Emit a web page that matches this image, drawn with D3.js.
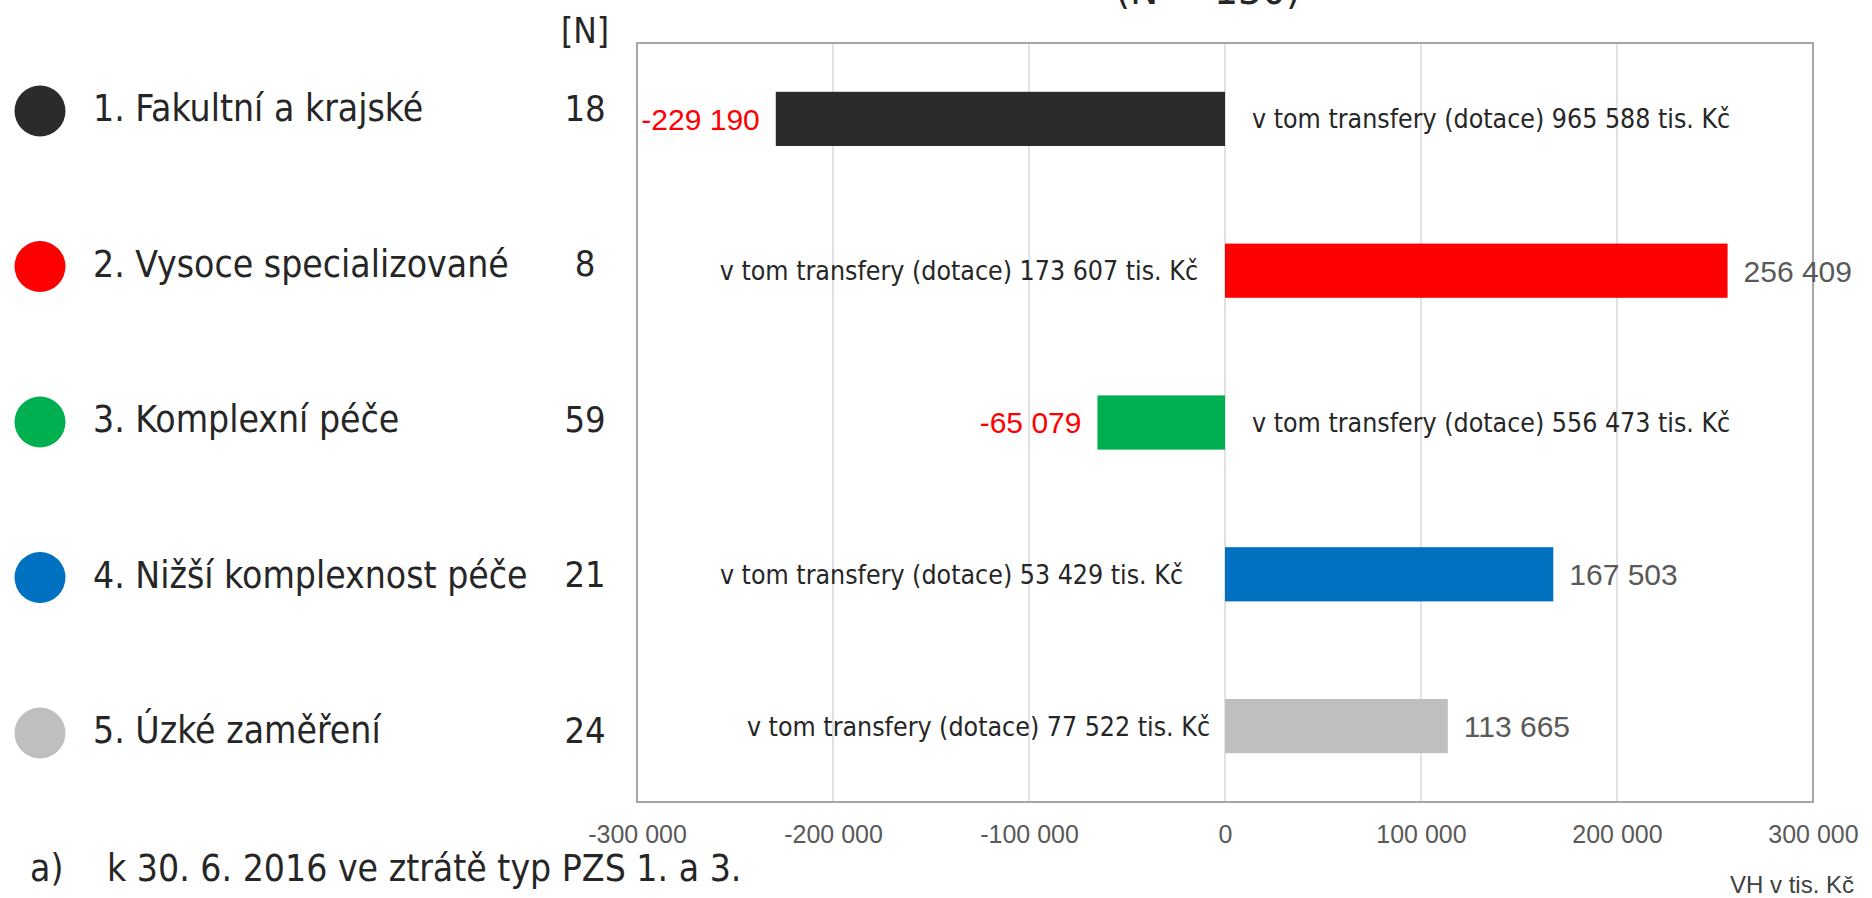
<!DOCTYPE html>
<html>
<head>
<meta charset="utf-8">
<script src="https://cdn.jsdelivr.net/npm/d3@7"></script>
<style>
  body { margin: 0; background: #ffffff; }
  svg { display: block; }
  .cond { font-family: "DejaVu Sans Condensed", "DejaVu Sans", sans-serif; font-stretch: condensed; }
  .num { font-family: "Liberation Sans", Arial, sans-serif; }
</style>
</head>
<body>
<script>
"use strict";

// hospital types and their counts
const CATEGORIES = ["1. Fakultní a krajské", "2. Vysoce specializované", "3. Komplexní péče",
                    "4. Nižší komplexnost péče", "5. Úzké zaměření"];
const COUNTS = [18, 8, 59, 21, 24];
// VH v tis. Kč
const VALUES = [-229190, 256409, -65079, 167503, 113665];
// v tom transfery (dotace), tis. Kč
const TRANSFERS = [965588, 173607, 556473, 53429, 77522];
const X_TICKS = [-300000, -200000, -100000, 0, 100000, 200000, 300000];
const COLORS = ["#2b2b2b", "#ff0000", "#00b050", "#0070c0", "#bfbfbf"];

class ChartView
{
    /**
     * @param {String} selector element to draw into
     */
    constructor(selector)
    {
        this._selector = selector;
        this._fmt = d3.formatLocale({decimal: ",", thousands: " ", grouping: [3],
                                     currency: ["", ""], minus: "-"}).format(",d");
    }

    draw()
    {
        const WIDTH = 1872;
        const HEIGHT = 898;
        const fmt = this._fmt;
        // the transfer notes were hand placed text boxes, not all at the same spot
        const NOTE_NUDGE = [0, 0, 0, -15, 12];

        let svg = d3.select(this._selector)
                    .append("svg")
                    .attr("width", WIDTH)
                    .attr("height", HEIGHT);

        let x = d3.scaleLinear()
                  .domain([X_TICKS[0], X_TICKS[X_TICKS.length - 1]])
                  .range([637, 1813]);
        let y = d3.scaleBand()
                  .domain(CATEGORIES)
                  .range([43, 802])
                  .paddingInner(0.643)
                  .paddingOuter(0.3215);
        let ly = d3.scalePoint()
                   .domain(CATEGORIES)
                   .range([111, 733]);

        // title, cut by the top edge
        svg.append("text")
           .attr("class", "cond")
           .attr("x", 1208)
           .attr("y", 4)
           .attr("text-anchor", "middle")
           .attr("font-size", 42)
           .attr("fill", "#262626")
           .text("(N = " + d3.sum(COUNTS) + ")");

        // grid
        svg.append("g")
           .selectAll("line")
           .data(X_TICKS.slice(1, -1))
           .join("line")
           .attr("x1", d => x(d))
           .attr("x2", d => x(d))
           .attr("y1", 43)
           .attr("y2", 802)
           .attr("stroke", "#d9d9d9")
           .attr("stroke-width", 1.5);

        svg.append("rect")
           .attr("x", x.range()[0])
           .attr("y", 43)
           .attr("width", x.range()[1] - x.range()[0])
           .attr("height", 802 - 43)
           .attr("fill", "none")
           .attr("stroke", "#a6a6a6")
           .attr("stroke-width", 2);

        // axis
        let axis = svg.append("g")
                      .attr("transform", "translate(0,802)")
                      .call(d3.axisBottom(x)
                              .tickValues(X_TICKS)
                              .tickFormat(fmt)
                              .tickSize(0)
                              .tickPadding(23));
        axis.select(".domain").remove();
        axis.selectAll("text")
            .attr("class", "num")
            .attr("font-size", 25)
            .attr("fill", "#595959");

        svg.append("text")
           .attr("class", "num")
           .attr("x", 1854)
           .attr("y", 893)
           .attr("text-anchor", "end")
           .attr("font-size", 24)
           .attr("fill", "#404040")
           .text("VH v tis. Kč");

        // bars
        svg.append("g")
           .selectAll("rect")
           .data(VALUES)
           .join("rect")
           .attr("x", d => x(Math.min(0, d)))
           .attr("y", (d, i) => y(CATEGORIES[i]))
           .attr("width", d => Math.abs(x(d) - x(0)))
           .attr("height", y.bandwidth())
           .attr("fill", (d, i) => COLORS[i]);

        // value labels
        svg.append("g")
           .selectAll("text")
           .data(VALUES)
           .join("text")
           .attr("class", "num")
           .attr("x", d => d < 0 ? x(d) - 16 : x(d) + 16)
           .attr("y", (d, i) => y(CATEGORIES[i]) + y.bandwidth() / 2)
           .attr("dy", "0.36em")
           .attr("text-anchor", d => d < 0 ? "end" : "start")
           .attr("font-size", 30)
           .attr("fill", d => d < 0 ? "#ff0000" : "#595959")
           .text(d => fmt(d));

        // transfer notes on the other side of zero
        svg.append("g")
           .selectAll("text")
           .data(TRANSFERS)
           .join("text")
           .attr("class", "cond")
           .attr("x", (d, i) => (VALUES[i] < 0 ? x(0) + 27 : x(0) - 27) + NOTE_NUDGE[i])
           .attr("y", (d, i) => y(CATEGORIES[i]) + y.bandwidth() / 2)
           .attr("dy", "0.36em")
           .attr("text-anchor", (d, i) => VALUES[i] < 0 ? "start" : "end")
           .attr("font-size", 26.5)
           .attr("fill", "#262626")
           .text(d => "v tom transfery (dotace) " + fmt(d) + " tis. Kč");

        // legend with counts
        let legend = svg.append("g")
                        .selectAll("g")
                        .data(CATEGORIES)
                        .join("g")
                        .attr("transform", d => "translate(0," + ly(d) + ")");
        legend.append("circle")
              .attr("cx", 40)
              .attr("r", 25.5)
              .attr("fill", (d, i) => COLORS[i]);
        legend.append("text")
              .attr("class", "cond")
              .attr("x", 93)
              .attr("dy", "0.27em")
              .attr("font-size", 37)
              .attr("fill", "#262626")
              .text(d => d);
        legend.append("text")
              .attr("class", "cond")
              .attr("x", 585)
              .attr("dy", "0.27em")
              .attr("text-anchor", "middle")
              .attr("font-size", 36)
              .attr("fill", "#262626")
              .text((d, i) => COUNTS[i]);

        svg.append("text")
           .attr("class", "cond")
           .attr("x", 585)
           .attr("y", 43)
           .attr("text-anchor", "middle")
           .attr("font-size", 35)
           .attr("fill", "#262626")
           .text("[N]");

        // footnote
        let note = svg.append("text")
                      .attr("class", "cond")
                      .attr("y", 881)
                      .attr("font-size", 37)
                      .attr("fill", "#262626");
        note.append("tspan").attr("x", 30).text("a)");
        note.append("tspan").attr("x", 107).text("k 30. 6. 2016 ve ztrátě typ PZS 1. a 3.");
    }
}

new ChartView("body").draw();
</script>
</body>
</html>
